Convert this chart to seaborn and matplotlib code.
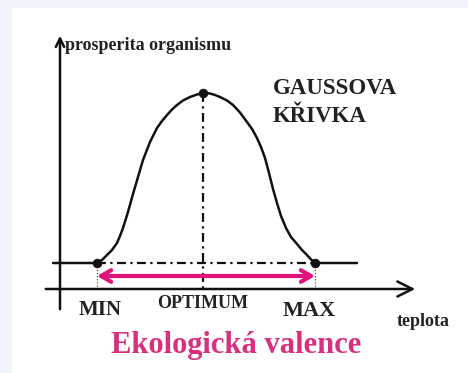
import matplotlib
matplotlib.use("Agg")
import matplotlib.pyplot as plt
import matplotlib.patches as mpatches
import seaborn as sns
import pandas as pd

# Curve: temperature (x) vs prosperity (y)
temperature = [-7, 37, 42, 47, 52, 57, 60, 63, 68, 73, 78, 83, 90, 97, 102, 107, 112,
               117, 123, 130, 137, 143, 150, 155, 160, 167, 173, 180, 187, 192, 197,
               201, 205, 209, 213, 217, 221, 226, 231, 237, 242, 247, 251, 255, 297]
prosperity = [26, 26, 29, 34, 39, 46, 53, 61, 77, 95, 112, 129, 147, 161, 168, 174, 179.5,
              184, 188.5, 192, 194.5, 196, 195.5, 194, 192, 188.5, 184, 176.5, 167, 160, 151,
              142, 131, 116, 100, 86, 73, 61, 52, 45, 39, 34, 29.5, 26, 26]

key_names = ["MIN", "OPTIMUM", "MAX"]
key_temperature = [37, 143, 255]
key_prosperity = [26, 196, 26]
baseline_level = 26

y_label = "prosperita organismu"
x_label = "teplota"
curve_title = ["GAUSSOVA", "KŘIVKA"]
caption = "Ekologická valence"

sns.set_theme(style="white")
plt.rcParams["font.family"] = ["Liberation Serif", "DejaVu Serif"]

fig = plt.figure(figsize=(4.68, 3.73), dpi=100, facecolor="#f1f5fb")
fig.patches.append(mpatches.Rectangle((12 / 468, 0), 1, (373 - 8) / 373,
                                      transform=fig.transFigure, facecolor="white",
                                      edgecolor="none", zorder=-10))
ax = fig.add_axes([0, 0, 1, 1])
ax.set_facecolor("none")
ax.axis("off")

ink = "#111111"
pink = "#e0147c"

# axes with arrowheads
ax.annotate("", xy=(358, 0), xytext=(-17, 0),
            arrowprops=dict(arrowstyle="->,head_length=0.9,head_width=0.45", color=ink, lw=1.8))
ax.annotate("", xy=(0, 256), xytext=(0, -23),
            arrowprops=dict(arrowstyle="->,head_length=0.5,head_width=0.25", color=ink, lw=1.8))

df = pd.DataFrame({"t": temperature, "p": prosperity})
sns.lineplot(data=df, x="t", y="p", ax=ax, color=ink, lw=1.8, sort=False, legend=False)

# dashed guides
ax.plot([key_temperature[0], key_temperature[2]], [baseline_level, baseline_level],
        color=ink, lw=1.6, ls=(0, (4, 2, 1, 2)))
ax.plot([key_temperature[1], key_temperature[1]], [key_prosperity[1], -4],
        color=ink, lw=1.6, ls=(0, (4, 2, 1, 2)))
for t in (key_temperature[0], key_temperature[2]):
    ax.plot([t, t], [baseline_level, 0], color="#555555", lw=0.9, ls=(0, (1, 1.5)))

# pink double arrow (valence range)
ax.annotate("", xy=(key_temperature[2], 13), xytext=(key_temperature[0], 13),
            arrowprops=dict(arrowstyle="<->,head_length=0.6,head_width=0.35",
                            color=pink, lw=3, shrinkA=0, shrinkB=0))

kp = pd.DataFrame({"t": key_temperature, "p": key_prosperity})
sns.scatterplot(data=kp, x="t", y="p", ax=ax, color=ink, s=40, edgecolor=ink, zorder=5, legend=False)

ax.set_xlim(-60, 408)
ax.set_ylim(-84, 289)

tk = dict(color="#222222", fontweight="bold")
ax.text(5, 244, y_label, fontsize=13, ha="left", va="center", **tk)
ax.text(213, 200, curve_title[0], fontsize=16.5, ha="left", va="center", **tk)
ax.text(213, 172, curve_title[1], fontsize=16.5, ha="left", va="center", **tk)
ax.text(40, -21, key_names[0], fontsize=15, ha="center", va="center", **tk)
ax.text(143, -14, key_names[1], fontsize=13, ha="center", va="center", **tk)
ax.text(249, -22, key_names[2], fontsize=16, ha="center", va="center", **tk)
ax.text(363, -32, x_label, fontsize=13, ha="center", va="center", **tk)
ax.text(176, -56, caption, fontsize=22, ha="center", va="center",
        color="#d8307e", fontweight="bold")

fig.savefig("out.png", dpi=100, facecolor=fig.get_facecolor())
